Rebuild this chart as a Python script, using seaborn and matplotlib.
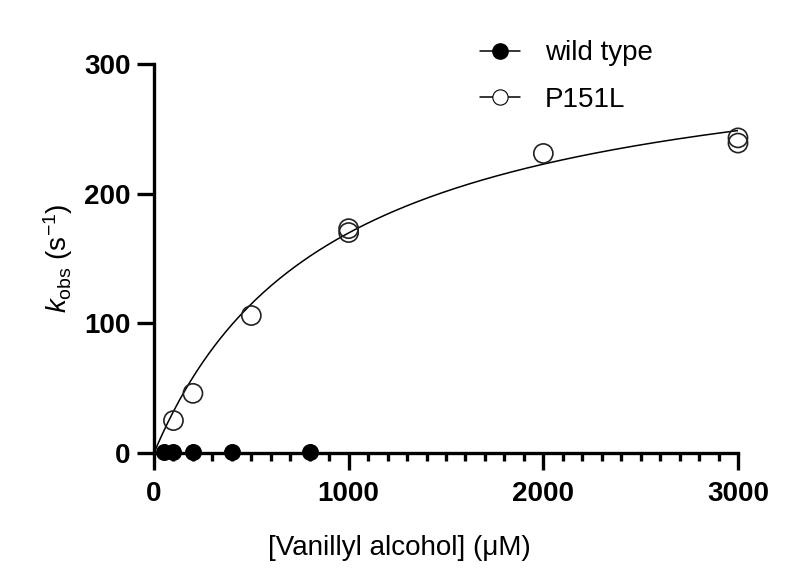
import numpy as np
import pandas as pd
import matplotlib
matplotlib.use('Agg')
import matplotlib.pyplot as plt
from matplotlib.ticker import MultipleLocator
from matplotlib.lines import Line2D
import seaborn as sns

wt_conc = [50, 100, 200, 400, 800]
wt_kobs = [0.5, 0.5, 0.5, 0.5, 0.5]

p151l_conc = [100, 200, 500, 1000, 1000, 2000, 3000, 3000]
p151l_kobs = [25, 46, 106, 170, 173, 231, 239, 243]

# Michaelis-Menten fit parameters for P151L (estimated from the drawn curve)
kcat = 324
km = 909

sns.set_style('ticks')
plt.rcParams['font.family'] = ['Liberation Sans', 'DejaVu Sans']
plt.rcParams['mathtext.fontset'] = 'custom'
plt.rcParams['mathtext.it'] = 'Liberation Sans:italic'
plt.rcParams['mathtext.rm'] = 'Liberation Sans'
for key in ['text.color', 'axes.labelcolor', 'xtick.color', 'ytick.color', 'axes.edgecolor']:
    plt.rcParams[key] = 'black'

fig = plt.figure(figsize=(8, 5.88), dpi=100)
ax = fig.add_axes([0.1925, 0.2296, 0.73, 0.6616])

fit_x = np.linspace(0, 3000, 300)
fit = pd.DataFrame({'x': fit_x, 'y': kcat * fit_x / (km + fit_x)})
sns.lineplot(data=fit, x='x', y='y', color='black', linewidth=1.1, ax=ax)

wt = pd.DataFrame({'x': wt_conc, 'y': wt_kobs})
mut = pd.DataFrame({'x': p151l_conc, 'y': p151l_kobs})
sns.scatterplot(data=wt, x='x', y='y', color='black', s=150, edgecolor='black',
                linewidth=0, ax=ax, zorder=5, clip_on=False)
sns.scatterplot(data=mut, x='x', y='y', facecolor='none', s=190, edgecolor='#222222',
                linewidth=1.2, ax=ax, zorder=5, clip_on=False)

ax.set_xlim(0, 3000)
ax.set_ylim(0, 300)
ax.xaxis.set_major_locator(MultipleLocator(1000))
ax.xaxis.set_minor_locator(MultipleLocator(100))
ax.yaxis.set_major_locator(MultipleLocator(100))
sns.despine(ax=ax)
for s in ['left', 'bottom']:
    ax.spines[s].set_linewidth(2.4)
ax.tick_params(which='major', length=12, width=2.4, labelsize=20, pad=5)
ax.tick_params(axis='x', which='major', pad=8)
ax.tick_params(axis='x', which='minor', length=6, width=2.4)
for lab in ax.get_xticklabels() + ax.get_yticklabels():
    lab.set_fontweight('bold')

ax.set_xlabel('[Vanillyl alcohol] (\u03bcM)', fontsize=20)
ax.xaxis.set_label_coords(0.42, -0.21)
ax.set_ylabel(r'$k_{\mathrm{obs}}$ (s$^{-1}$)', fontsize=20)
ax.yaxis.set_label_coords(-0.135, 0.5)

handles = [
    Line2D([], [], color='black', marker='o', markersize=11, linewidth=1.1,
           markerfacecolor='black'),
    Line2D([], [], color='black', marker='o', markersize=11, linewidth=1.1,
           markerfacecolor='white', markeredgewidth=0.8),
]
ax.legend(handles, ['wild type', 'P151L'], loc='upper left',
          bbox_to_anchor=(0.515, 1.125), frameon=False, fontsize=20,
          handlelength=1.45, handletextpad=0.9, labelspacing=0.75)

fig.savefig('out.png', dpi=100)
